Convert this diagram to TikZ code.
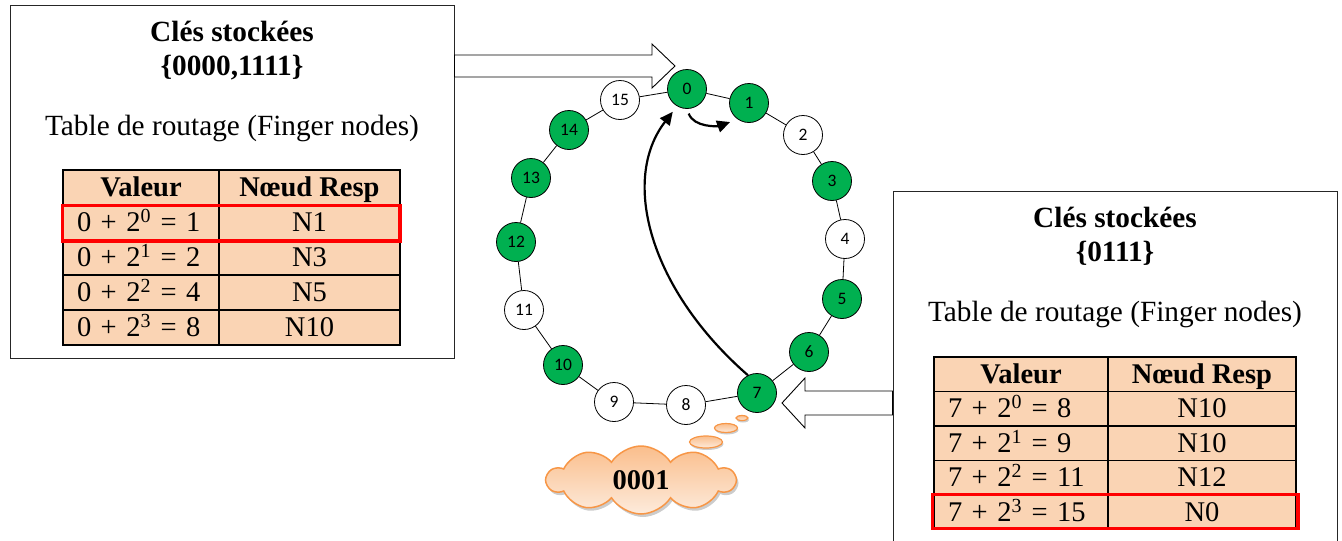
\documentclass[tikz,border=0pt]{standalone}
\usepackage{fontspec}
\setmainfont{Liberation Serif}
\newfontfamily\ringfont{Carlito}
\usetikzlibrary{arrows.meta,shapes.symbols,shapes.geometric,shadows}
\definecolor{ringgreen}{RGB}{0,176,80}
\definecolor{peach}{RGB}{250,212,180}
\definecolor{cloudline}{RGB}{247,150,70}
\definecolor{cloudtop}{RGB}{250,190,140}
\definecolor{cloudbot}{RGB}{253,235,220}
\tikzset{
  ring/.style={circle, draw=black, line width=0.8pt, minimum size=39pt, inner sep=0pt, font=\ringfont\fontsize{17.5}{17.5}\selectfont},
  gnode/.style={ring, fill=ringgreen},
  wnode/.style={ring, fill=white},
  link/.style={draw=black, line width=0.8pt},
  frame/.style={draw=black!85, line width=1pt, fill=white, inner sep=0pt},
  bigtext/.style={font=\fontsize{29.3}{34}\selectfont, inner sep=0pt, anchor=base},
  cell/.style={draw=black, line width=1.5pt, fill=peach, inner sep=0pt, text height=20pt, text depth=2pt, font=\fontsize{28.5}{33}\selectfont},
  lcell/.style={cell, align=left, inner xsep=14pt},
  ccell/.style={cell},
  redbox/.style={draw=red, line width=3.5pt},
  blockarrow/.style={draw=black, line width=0.9pt, fill=white},
  hop/.style={draw=black, line width=2.2pt, -{Triangle[length=13pt,width=12pt]}},
  cloudy/.style={cloud, cloud puffs=10, cloud puff arc=115, aspect=2.8, draw=cloudline, line width=1.5pt, top color=cloudtop, bottom color=cloudbot, drop shadow={shadow xshift=2pt, shadow yshift=-3pt, fill=black!40}, inner sep=0pt},
  bubble/.style={ellipse, draw=cloudline, line width=1.2pt, top color=cloudtop, bottom color=cloudbot, drop shadow={shadow xshift=1pt, shadow yshift=-2pt, fill=black!40}, inner sep=0pt}
}
\begin{document}
\begin{tikzpicture}[x=1pt,y=-1pt]
\useasboundingbox (0,0) rectangle (1342,541);
\clip (0,0) rectangle (1342,541);

% left box
\node[frame, minimum width=444pt, minimum height=353pt] (lbox) at (232,181.5) {};
\node[bigtext] (ltitle) at (232,41.7) {\bfseries Clés stockées};
\node[bigtext] (lkeys) at (232,75.5) {\bfseries\{0000,1111\}};
\node[bigtext] (ltab) at (232,135) {Table de routage (Finger nodes)};

\node[ccell, minimum width=156pt, minimum height=35pt] (LH1) at (141,187.5) {\bfseries Valeur};
\node[ccell, minimum width=181pt, minimum height=35pt] (LH2) at (309.5,187.5) {\bfseries Nœud Resp};
\node[lcell, text width=128pt, minimum height=35pt] (L11) at (141,222.5) {0 + 2\textsuperscript{0} = 1};
\node[ccell, minimum width=181pt, minimum height=35pt] (L12) at (309.5,222.5) {N1};
\node[lcell, text width=128pt, minimum height=35pt] (L21) at (141,257.5) {0 + 2\textsuperscript{1} = 2};
\node[ccell, minimum width=181pt, minimum height=35pt] (L22) at (309.5,257.5) {N3};
\node[lcell, text width=128pt, minimum height=35pt] (L31) at (141,292.5) {0 + 2\textsuperscript{2} = 4};
\node[ccell, minimum width=181pt, minimum height=35pt] (L32) at (309.5,292.5) {N5};
\node[lcell, text width=128pt, minimum height=35pt] (L41) at (141,327.5) {0 + 2\textsuperscript{3} = 8};
\node[ccell, minimum width=181pt, minimum height=35pt] (L42) at (309.5,327.5) {N10};
\draw[redbox] ([yshift=-1pt]L11.north west) rectangle ([xshift=-1pt]L12.south east);

% right box
\node[frame, minimum width=444pt, minimum height=369pt] (rbox) at (1115,375.5) {};
\node[bigtext] (rtitle) at (1115,227.7) {\bfseries Clés stockées};
\node[bigtext] (rkeys) at (1115,261.7) {\bfseries\{0111\}};
\node[bigtext] (rtab) at (1115,321.7) {Table de routage (Finger nodes)};

\node[ccell, minimum width=174pt, minimum height=34.5pt] (RH1) at (1021,374.25) {\bfseries Valeur};
\node[ccell, minimum width=188pt, minimum height=34.5pt] (RH2) at (1202,374.25) {\bfseries Nœud Resp};
\node[lcell, text width=146pt, minimum height=34.5pt] (R11) at (1021,408.75) {7 + 2\textsuperscript{0} = 8};
\node[ccell, minimum width=188pt, minimum height=34.5pt] (R12) at (1202,408.75) {N10};
\node[lcell, text width=146pt, minimum height=34.5pt] (R21) at (1021,443.25) {7 + 2\textsuperscript{1} = 9};
\node[ccell, minimum width=188pt, minimum height=34.5pt] (R22) at (1202,443.25) {N10};
\node[lcell, text width=146pt, minimum height=34.5pt] (R31) at (1021,477.75) {7 + 2\textsuperscript{2} = 11};
\node[ccell, minimum width=188pt, minimum height=34.5pt] (R32) at (1202,477.75) {N12};
\node[lcell, text width=146pt, minimum height=34.5pt] (R41) at (1021,512.25) {7 + 2\textsuperscript{3} = 15};
\node[ccell, minimum width=188pt, minimum height=34.5pt] (R42) at (1202,512.25) {N0};
\draw[redbox] ([xshift=-1pt]R41.north west) rectangle ([xshift=1pt,yshift=2pt]R42.south east);

% block arrows
\draw[blockarrow] (lbox.east |- 0,55) -- (652,55) -- (652,44) -- (675,66) -- (652,88) -- (652,77) -- (lbox.east |- 0,77) -- cycle;
\draw[blockarrow] (rbox.west |- 0,391) -- (805,391) -- (805,378) -- (782,403) -- (805,428) -- (805,415) -- (rbox.west |- 0,415) -- cycle;

% ring
\node[gnode] (n0) at (687,89) {0};
\node[gnode] (n1) at (749,103) {1};
\node[wnode] (n2) at (803,135) {2};
\node[gnode] (n3) at (832,181) {3};
\node[wnode] (n4) at (845,239) {4};
\node[gnode] (n5) at (842,299) {5};
\node[gnode] (n6) at (809,352) {6};
\node[gnode] (n7) at (757,393) {7};
\node[wnode] (n8) at (686,405) {8};
\node[wnode] (n9) at (614,402) {9};
\node[gnode] (n10) at (563,365) {10};
\node[wnode] (n11) at (524,310) {11};
\node[gnode] (n12) at (516,242) {12};
\node[gnode] (n13) at (531,178) {13};
\node[gnode] (n14) at (569,130) {14};
\node[wnode] (n15) at (620,100) {15};
\foreach \i [evaluate=\i as \j using {int(mod(\i+1,16))}] in {0,...,15}
  \draw[link] (n\i) -- (n\j);

% hops
\draw[hop, shorten >=7pt] (n7.117) .. controls (650,290) and (620,180) .. (n0.240);
\draw[hop, shorten <=5pt, shorten >=8pt] (n0.270) to[out=-70, in=200] (n1.235);

% thought cloud
\node[bubble, minimum width=12pt, minimum height=5pt] (b3) at (742,418) {};
\node[bubble, minimum width=23pt, minimum height=9pt] (b2) at (726,428) {};
\node[bubble, minimum width=33pt, minimum height=12pt] (b1) at (706,442) {};
\node[cloudy, minimum width=188pt, minimum height=68pt, font=\fontsize{28.5}{34}\selectfont\bfseries] (cl) at (641,480) {0001};
\end{tikzpicture}
\end{document}
